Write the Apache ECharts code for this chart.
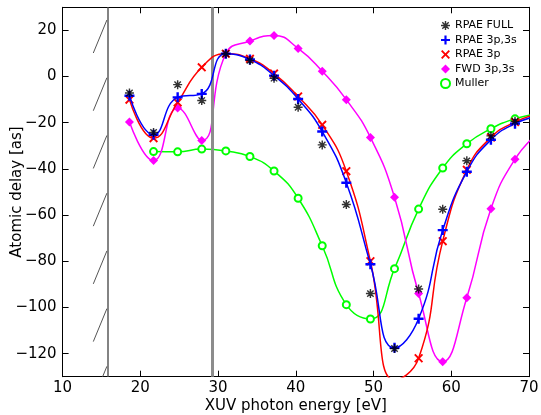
<!DOCTYPE html>
<html><head><meta charset="utf-8">
<script src="https://cdn.jsdelivr.net/npm/echarts@6/dist/echarts.min.js"></script>
<style>html,body{margin:0;padding:0;background:#fff}#c{width:541px;height:415px}</style>
</head><body><div id="c"></div><script>
const energy    = [18.6,21.7,24.8,27.9,31.0,34.1,37.2,40.3,43.4,46.5,49.6,52.7,55.8,58.9,62.0,65.1,68.2,71.3];
const rpaeFull  = [-7.1,-24.2,-3.5,-10.4,9.9,7.0,-0.7,-13.3,-29.6,-55.4,-94.0,-117.8,-92.0,-57.5,-36.5,-25.7,-19.4,null];
const rpae3p3s  = [-8.3,-25.2,-9.0,-7.5,9.9,7.4,0.4,-9.7,-23.8,-46.0,-81.3,-117.5,-104.9,-66.5,-41.2,-27.4,-20.4,-17.0];
const rpae3p    = [-10.0,-26.7,-11.2,4.0,9.9,7.7,1.3,-8.6,-20.9,-41.0,-80.0,-131.5,-122.0,-71.3,-40.4,-26.4,-19.7,-16.0];
const fwd3p3s   = [-19.7,-36.4,-13.6,-27.7,9.9,15.4,17.8,12.2,2.3,-10.0,-26.4,-52.3,-94.0,-123.5,-95.8,-57.3,-35.8,-24.0];
const muller    = [null,-32.5,-32.6,-31.4,-32.2,-34.6,-40.9,-52.7,-73.3,-98.8,-105.0,-83.2,-57.4,-39.6,-29.1,-22.6,-18.3,-16.0];
const seriesNames = ['RPAE FULL','RPAE 3p,3s','RPAE 3p','FWD 3p,3s','Muller'];
const xTicks = [10,20,30,40,50,60,70];
const yTicks = [-120,-100,-80,-60,-40,-20,0,20];
const thresholds = [15.8, 29.3];
const slashTops = [24.5,-0.5,-25.5,-50.5,-75.5,-100.5,-125.5];
const slashLeft = 13.95, slashRight = 15.7, slashDrop = 14.3;

const pairs = arr => energy.map((e,i)=>[e,arr[i]]).filter(p=>p[1]!==null);

const P_PLUS = 'path://M-1.2,-5L1.2,-5L1.2,-1.2L5,-1.2L5,1.2L1.2,1.2L1.2,5L-1.2,5L-1.2,1.2L-5,1.2L-5,-1.2L-1.2,-1.2Z';
const P_X = 'path://M0,-1.5L3.5,-5L5,-3.5L1.5,0L5,3.5L3.5,5L0,1.5L-3.5,5L-5,3.5L-1.5,0L-5,-3.5L-3.5,-5Z';
const P_AST = 'path://M-0.8,-5L0.8,-5L0.8,-0.8L5,-0.8L5,0.8L0.8,0.8L0.8,5L-0.8,5L-0.8,0.8L-5,0.8L-5,-0.8L-0.8,-0.8Z M0,-1.1L3,-4.1L4.1,-3L1.1,0L4.1,3L3,4.1L0,1.1L-3,4.1L-4.1,3L-1.1,0L-4.1,-3L-3,-4.1Z';
const P_DIA = 'diamond';

const font = 'DejaVu Sans';
const chart = echarts.init(document.getElementById('c'));
const axisCommon = {
  axisLine:{show:true,onZero:false,lineStyle:{color:'#000',width:1}},
  axisTick:{show:true,inside:true,length:6,lineStyle:{color:'#000'}},
  splitLine:{show:false}
};
chart.setOption({
  animation:false,
  backgroundColor:'#fff',
  textStyle:{fontFamily:font},
  grid:{left:62.6,right:12,top:7.3,bottom:38.3,containLabel:false,outerBoundsMode:'none'},
  legend:{
    orient:'vertical', left:435, top:15, itemGap:3.5, itemWidth:9, itemHeight:9,
    textStyle:{fontFamily:font,fontSize:11,color:'#000'},
    data:[
      {name:seriesNames[0],icon:P_AST},
      {name:seriesNames[1],icon:P_PLUS},
      {name:seriesNames[2],icon:P_X},
      {name:seriesNames[3],icon:P_DIA},
      {name:seriesNames[4],icon:'emptyCircle'}
    ]
  },
  xAxis:[
    Object.assign({type:'value',min:10,max:70,position:'bottom',
      name:'XUV photon energy [eV]',nameLocation:'middle',nameGap:22,nameMoveOverlap:false,
      nameTextStyle:{fontFamily:font,fontSize:15,color:'#000'},
      axisLabel:{fontFamily:font,fontSize:15,color:'#000',margin:4,customValues:xTicks},
    },axisCommon,{axisTick:Object.assign({},axisCommon.axisTick,{customValues:xTicks})}),
    Object.assign({type:'value',min:10,max:70,position:'top',axisLabel:{show:false}},axisCommon,
      {axisTick:Object.assign({},axisCommon.axisTick,{customValues:xTicks})})
  ],
  yAxis:[
    Object.assign({type:'value',min:-130,max:30,position:'left',
      name:'Atomic delay [as]',nameLocation:'middle',nameGap:38,nameMoveOverlap:false,
      nameTextStyle:{fontFamily:font,fontSize:15,color:'#000'},
      axisLabel:{fontFamily:font,fontSize:15,color:'#000',margin:6,customValues:yTicks,
        formatter:v=>(v<0?'\u2212'+Math.abs(v):String(v))},
    },axisCommon,{axisTick:Object.assign({},axisCommon.axisTick,{customValues:yTicks})}),
    Object.assign({type:'value',min:-130,max:30,position:'right',axisLabel:{show:false}},axisCommon,
      {axisTick:Object.assign({},axisCommon.axisTick,{customValues:yTicks})})
  ],
  series:[
    {
      type:'custom', name:'decor', clip:true, silent:true, z:1,
      encode:{x:[0,2],y:[1,3]},
      data: slashTops.map(v=>[slashLeft, v-slashDrop, slashRight, v]),
      renderItem:(params,api)=>{
        const a=api.coord([api.value(0),api.value(1)]);
        const b=api.coord([api.value(2),api.value(3)]);
        return {type:'line',shape:{x1:a[0],y1:a[1],x2:b[0],y2:b[1]},style:{stroke:'#555',lineWidth:1}};
      },
      markLine:{symbol:'none',silent:true,label:{show:false},animation:false,
        data:[
          {xAxis:thresholds[0],lineStyle:{color:'#5a5a5a',width:1.5,type:'solid'}},
          {xAxis:thresholds[1],lineStyle:{color:'#8c8c8c',width:3,type:'solid'}}
        ]}
    },
    {name:seriesNames[4],type:'line',data:pairs(muller),smooth:0.5,z:3,
      lineStyle:{color:'#00ff00',width:1.5},itemStyle:{color:'#00ff00',borderWidth:1.5},
      symbol:'emptyCircle',symbolSize:7,showAllSymbol:true},
    {name:seriesNames[3],type:'line',data:pairs(fwd3p3s),smooth:0.5,z:4,
      lineStyle:{color:'#ff00ff',width:1.5},itemStyle:{color:'#ff00ff'},
      symbol:P_DIA,symbolSize:9,showAllSymbol:true},
    {name:seriesNames[2],type:'line',data:pairs(rpae3p),smooth:0.5,z:5,
      lineStyle:{color:'#ff0000',width:1.5},itemStyle:{color:'#ff0000'},
      symbol:P_X,symbolSize:9,showAllSymbol:true},
    {name:seriesNames[1],type:'line',data:pairs(rpae3p3s),smooth:0.5,z:6,
      lineStyle:{color:'#0000ff',width:1.5},itemStyle:{color:'#0000ff'},
      symbol:P_PLUS,symbolSize:10,showAllSymbol:true},
    {name:seriesNames[0],type:'scatter',data:pairs(rpaeFull),z:7,
      itemStyle:{color:'#000'},symbol:P_AST,symbolSize:9}
  ]
});
</script></body></html>
